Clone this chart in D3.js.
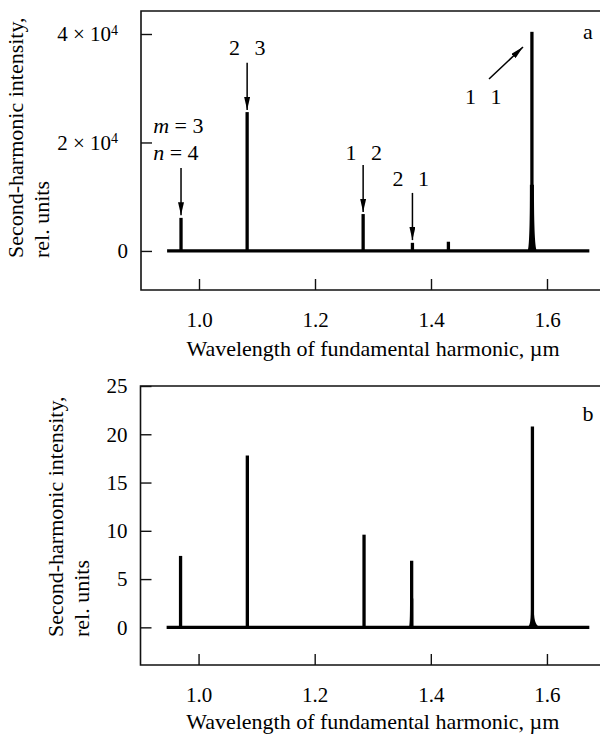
<!DOCTYPE html>
<html>
<head>
<meta charset="utf-8">
<script src="https://cdn.jsdelivr.net/npm/d3@7"></script>
<style>
body { margin: 0; background: #fff; }
</style>
</head>
<body>
<div id="chart"></div>
<script>
// ---- data
var xTicks = [1.0, 1.2, 1.4, 1.6];
var baseRange = [0.945, 1.673];

// panel a
var wlA = [0.969, 1.083, 1.283, 1.368, 1.430, 1.574];
var intA = [6100, 25600, 6800, 1500, 1700, 40400];
var shWlA = [1.574];
var shHA = [12200];
var shLeftA = [0.008];
var shRightA = [0.009];
var shTopA = [0.0035];
var yTicksA = [0, 20000, 40000];

// annotations of panel a: label position and arrow (from -> to)
var annText = ["2 3", "1 2", "2 1", "1 1"];
var annWl = [1.083, 1.284, 1.365, 1.490];
var annY = [36100, 16800, 12000, 27100];
var arrFromWl = [0.969, 1.083, 1.283, 1.368, 1.500];
var arrFromY = [15300, 34700, 15850, 10700, 31700];
var arrToWl = [0.969, 1.083, 1.283, 1.368, 1.5586];
var arrToY = [6600, 26000, 7200, 2000, 37600];

// panel b
var wlB = [0.969, 1.084, 1.285, 1.367, 1.575];
var intB = [7.4, 17.8, 9.6, 6.9, 20.8];
var shWlB = [1.367, 1.575];
var shHB = [3.0, 1.8];
var shLeftB = [0.005, 0.010];
var shRightB = [0.003, 0.016];
var shTopB = [0.0028, 0.0025];
var yTicksB = [0, 5, 10, 15, 20, 25];

var FONT = "'Liberation Serif'";

var W = 600, H = 736;
var svg = d3.select("#chart").append("svg")
    .attr("width", W)
    .attr("height", H);

svg.append("defs").append("marker")
    .attr("id", "head")
    .attr("markerUnits", "userSpaceOnUse")
    .attr("viewBox", "0 0 13 6")
    .attr("refX", 13)
    .attr("refY", 3)
    .attr("markerWidth", 13)
    .attr("markerHeight", 6)
    .attr("orient", "auto")
    .append("path")
    .attr("d", "M0,0 L13,3 L0,6 Z")
    .attr("fill", "#000");

function drawPanel(p) {
    var x = d3.scaleLinear().domain([0.9, 1.7]).range([p.left, 605]);
    var y = d3.scaleLinear().domain(p.yDomain).range([p.bottom, p.top]);
    var g = svg.append("g");

    // frame (no right side)
    g.append("path")
        .attr("d", "M600," + p.top + "H" + p.left + "V" + p.bottom + "H600")
        .attr("fill", "none")
        .attr("stroke", "#111")
        .attr("stroke-width", 1.6);

    // x axis (inward ticks)
    var xAxis = d3.axisBottom(x)
        .tickValues(xTicks)
        .tickFormat(d3.format(".1f"))
        .tickSizeInner(-11)
        .tickSizeOuter(0)
        .tickPadding(22);
    var xg = g.append("g")
        .attr("transform", "translate(0," + p.bottom + ")")
        .call(xAxis)
        .attr("font-family", null);
    xg.select(".domain").remove();
    xg.selectAll("line").attr("stroke", "#111").attr("stroke-width", 1.4);
    xg.selectAll("text").attr("font-size", 21).style("font-family", FONT);

    // y axis (inward ticks)
    var yAxis = d3.axisLeft(y)
        .tickValues(p.yTicks)
        .tickSizeInner(-11)
        .tickSizeOuter(0)
        .tickPadding(13);
    var yg = g.append("g")
        .attr("transform", "translate(" + p.left + ",0)")
        .call(yAxis)
        .attr("font-family", null);
    yg.select(".domain").remove();
    yg.selectAll("line").attr("stroke", "#111").attr("stroke-width", 1.4);
    yg.selectAll("text").attr("font-size", 21).style("font-family", FONT);
    if (p.sci) {
        yg.selectAll("text").each(function (d) {
            if (d === 0) return;
            var t = d3.select(this).text(null).attr("x", -23);
            t.append("tspan").text((d / 1e4) + " \u00d7 10");
            t.append("tspan").attr("dy", "-0.45em").attr("font-size", 14).text("4");
        });
    }

    // axis titles
    g.append("text")
        .attr("x", (x(1.0) + x(1.6)) / 2)
        .attr("y", p.bottom + p.xLabelDy)
        .attr("text-anchor", "middle")
        .attr("font-size", 22)
        .style("font-family", FONT)
        .text("Wavelength of fundamental harmonic, \u00b5m");

    var yl = g.append("g")
        .attr("transform", "translate(" + p.yLabelX + "," + p.yLabelY + ") rotate(-90)");
    yl.append("text").attr("x", 0).attr("y", 0).attr("font-size", 22)
        .style("font-family", FONT)
        .text("Second-harmonic intensity,");
    yl.append("text").attr("x", 0).attr("y", 26).attr("font-size", 22)
        .style("font-family", FONT)
        .text("rel. units");

    // broad feet of some peaks
    g.selectAll(".foot")
        .data(p.shWl)
        .enter()
        .append("path")
        .attr("class", "foot")
        .attr("fill", "#000")
        .attr("d", function (d, i) {
            var h = p.shH[i];
            var x0 = x(d - p.shLeft[i]), x1 = x(d - p.shTop[i]), x2 = x(d + p.shTop[i]), x3 = x(d + p.shRight[i]);
            return "M" + x0 + "," + y(0) +
                "Q" + x1 + "," + y(0) + " " + x1 + "," + y(h) +
                "L" + x2 + "," + y(h) +
                "Q" + x2 + "," + y(0) + " " + x3 + "," + y(0) + "Z";
        });

    // baseline
    g.append("line")
        .attr("x1", x(baseRange[0]))
        .attr("x2", x(baseRange[1]))
        .attr("y1", y(0))
        .attr("y2", y(0))
        .attr("stroke", "#000")
        .attr("stroke-width", 3.2);

    // spikes
    g.selectAll(".spike")
        .data(p.wl)
        .enter()
        .append("line")
        .attr("class", "spike")
        .attr("x1", function (d) { return x(d); })
        .attr("x2", function (d) { return x(d); })
        .attr("y1", y(0))
        .attr("y2", function (d, i) { return y(p.val[i]); })
        .attr("stroke", "#000")
        .attr("stroke-width", 3.3);

    // panel letter
    g.append("text")
        .attr("x", 588)
        .attr("y", p.letterY)
        .attr("text-anchor", "middle")
        .attr("font-size", 22)
        .style("font-family", FONT)
        .text(p.letter);

    return { g: g, x: x, y: y };
}

var pa = drawPanel({
    left: 141, top: 11, bottom: 290,
    yDomain: [-7200, 44240], yTicks: yTicksA, sci: true,
    wl: wlA, val: intA,
    shWl: shWlA, shH: shHA, shLeft: shLeftA, shRight: shRightA, shTop: shTopA,
    xLabelDy: 66, yLabelX: 23, yLabelY: 258,
    letter: "a", letterY: 39
});

var pb = drawPanel({
    left: 140.5, top: 386, bottom: 665,
    yDomain: [-3.9, 25], yTicks: yTicksB, sci: false,
    wl: wlB, val: intB,
    shWl: shWlB, shH: shHB, shLeft: shLeftB, shRight: shRightB, shTop: shTopB,
    xLabelDy: 64, yLabelX: 63, yLabelY: 637,
    letter: "b", letterY: 421
});

// annotations on panel a
var ga = pa.g;
ga.selectAll(".arrow")
    .data(arrFromWl)
    .enter()
    .append("line")
    .attr("class", "arrow")
    .attr("x1", function (d) { return pa.x(d); })
    .attr("y1", function (d, i) { return pa.y(arrFromY[i]); })
    .attr("x2", function (d, i) { return pa.x(arrToWl[i]); })
    .attr("y2", function (d, i) { return pa.y(arrToY[i]); })
    .attr("stroke", "#000")
    .attr("stroke-width", 1.5)
    .attr("marker-end", "url(#head)");

ga.selectAll(".ann")
    .data(annText)
    .enter()
    .append("text")
    .attr("class", "ann")
    .attr("x", function (d, i) { return pa.x(annWl[i]); })
    .attr("y", function (d, i) { return pa.y(annY[i]); })
    .attr("text-anchor", "middle")
    .attr("font-size", 22)
    .attr("word-spacing", 9)
    .style("font-family", FONT)
    .text(function (d) { return d; });

var mn = ga.append("text")
    .attr("x", pa.x(0.921))
    .attr("y", pa.y(21750))
    .attr("font-size", 22)
    .style("font-family", FONT);
mn.append("tspan").attr("font-style", "italic").text("m");
mn.append("tspan").text(" = 3");
var nn = ga.append("text")
    .attr("x", pa.x(0.921))
    .attr("y", pa.y(16800))
    .attr("font-size", 22)
    .style("font-family", FONT);
nn.append("tspan").attr("font-style", "italic").text("n");
nn.append("tspan").text(" = 4");
</script>
</body>
</html>
